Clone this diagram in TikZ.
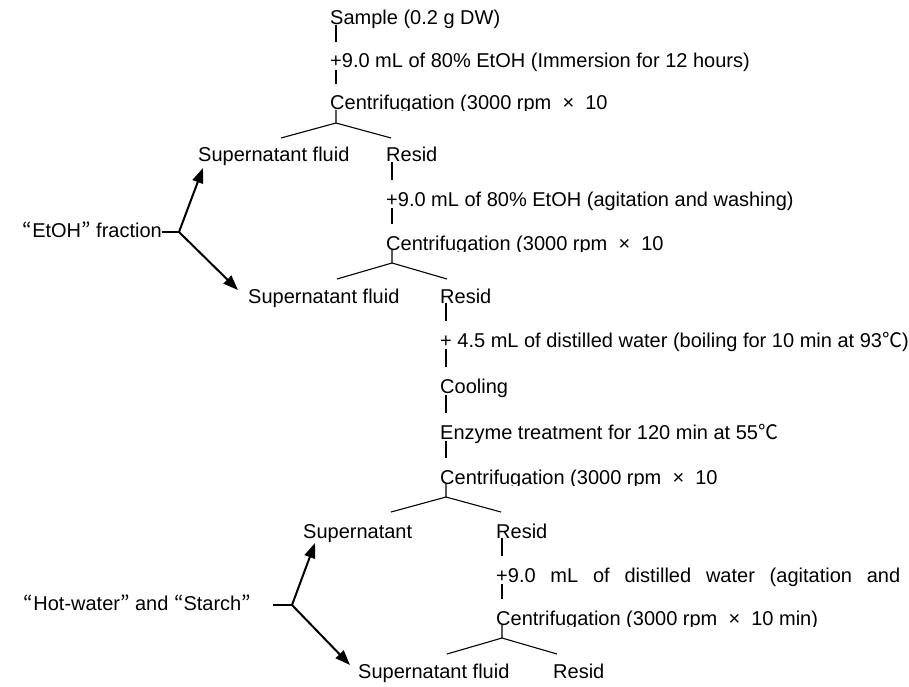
\documentclass[tikz,border=0pt]{standalone}
\usepackage{fontspec}
\setmainfont{Liberation Sans}
\newfontfamily\jfont{Noto Sans CJK JP}
\usetikzlibrary{positioning,arrows.meta}
\newcommand\jqo{{\jfont “}}
\newcommand\jqc{{\jfont ”}}
\newcommand\degC{{\jfont ℃}}

\begin{document}
\begin{tikzpicture}[x=1pt, y=-1pt,
    txt/.style={inner sep=0pt, anchor=base west,
        font=\fontsize{20}{24}\selectfont,
        text height=14.5pt, text depth=4pt},
    flow/.style={line width=1.1pt},
    fat/.style={line width=2pt, -{Triangle[length=15pt,width=11pt]}}]
    \useasboundingbox (0,0) rectangle (909,687);

    \node[txt] (S) at (330,25) {Sample (0.2 g DW)};
    \node[below=43pt of S.base west, txt] (A1) {+9.0 mL of 80\% EtOH (Immersion for 12 hours)};
    \begin{scope}
        \clip (A1.base west) ++(-10,10) rectangle ++(480,33);
        \node[below=42pt of A1.base west, txt] (C1) {Centrifugation (3000 rpm~ ×~ 10};
    \end{scope}
    \node[below left=52pt and 132pt of C1.base west, txt] (P1) {Supernatant fluid};
    \node[below right=52pt and 56pt of C1.base west, txt] (R1) {Resid};

    \node[below=44pt of R1.base west, txt] (A2) {+9.0 mL of 80\% EtOH (agitation and washing)};
    \begin{scope}
        \clip (A2.base west) ++(-10,10) rectangle ++(480,35);
        \node[below=44pt of A2.base west, txt] (C2) {Centrifugation (3000 rpm~ ×~ 10};
    \end{scope}
    \node[below left=53pt and 138pt of C2.base west, txt] (P2) {Supernatant fluid};
    \node[below right=53pt and 54pt of C2.base west, txt] (R2) {Resid};

    \node[below=44pt of R2.base west, txt] (B) {+ 4.5 mL of distilled water (boiling for 10 min at 93\degC)};
    \node[below=46pt of B.base west, txt] (K) {Cooling};
    \node[below=46pt of K.base west, txt] (E) {Enzyme treatment for 120 min at 55\degC};
    \begin{scope}
        \clip (E.base west) ++(-10,10) rectangle ++(480,36);
        \node[below=45pt of E.base west, txt] (C3) {Centrifugation (3000 rpm~ ×~ 10};
    \end{scope}
    \node[below left=54pt and 137pt of C3.base west, txt] (P3) {Supernatant};
    \node[below right=54pt and 56pt of C3.base west, txt] (R3) {Resid};

    \node[below=44pt of R3.base west, txt] (A3) {\makebox[404pt][s]{+9.0 mL of distilled water (agitation and}};
    \begin{scope}
        \clip (A3.base west) ++(-10,10) rectangle ++(480,34);
        \node[below=43pt of A3.base west, txt] (C4) {Centrifugation (3000 rpm~ ×~ 10 min)};
    \end{scope}
    \node[below left=53pt and 138pt of C4.base west, txt] (P4) {Supernatant fluid};
    \node[below right=53pt and 57pt of C4.base west, txt] (R4) {Resid};

    \coordinate (J1) at (179,232);
    \coordinate (J2) at (292,605);
    \node[txt, left=17pt of J1] (F1) {\jqo EtOH\jqc{} fraction};
    \node[txt, left=41pt of J2] (F2) {\jqo Hot-water\jqc{} and \jqo Starch\jqc};

    \draw[flow] ([xshift=6pt]S.base west) -- ([xshift=6pt,yshift=11pt]A1.north west)
        ([xshift=6pt,yshift=-2pt]A1.base west) -- ([xshift=6pt,yshift=11pt]C1.north west)
        ([xshift=6pt]R1.base west) -- ([xshift=6pt,yshift=11pt]A2.north west)
        ([xshift=6pt,yshift=-2pt]A2.base west) -- ([xshift=6pt,yshift=11pt]C2.north west)
        ([xshift=6pt]R2.base west) -- ([xshift=6pt,yshift=11pt]B.north west)
        ([xshift=6pt,yshift=-2pt]B.base west) -- ([xshift=6pt,yshift=11pt]K.north west)
        ([xshift=6pt,yshift=-2pt]K.base west) -- ([xshift=6pt,yshift=11pt]E.north west)
        ([xshift=6pt,yshift=-2pt]E.base west) -- ([xshift=6pt,yshift=11pt]C3.north west)
        ([xshift=6pt]R3.base west) -- ([xshift=6pt,yshift=11pt]A3.north west)
        ([xshift=6pt,yshift=-2pt]A3.base west) -- ([xshift=6pt,yshift=11pt]C4.north west);

    \draw[flow] ([xshift=6pt]C1.base west) -- ++(0,13) coordinate (Y1) -- ++(-55,15) (Y1) -- ++(55,15);
    \draw[flow] ([xshift=6pt]C2.base west) -- ++(0,13) coordinate (Y2) -- ++(-55,16) (Y2) -- ++(55,16);
    \draw[flow] ([xshift=6pt]C3.base west) -- ++(0,13) coordinate (Y3) -- ++(-55,15) (Y3) -- ++(55,15);
    \draw[flow] ([xshift=6pt]C4.base west) -- ++(0,13) coordinate (Y4) -- ++(-55,16) (Y4) -- ++(55,16);

    \draw[flow] (F1) -- (J1);
    \draw[fat] (J1) -- ([xshift=5pt,yshift=-6pt]P1.base west);
    \draw[fat] (J1) -- ([xshift=-10pt,yshift=13pt]P2.base west);
    \draw[flow] ([xshift=22pt]F2.east) -- (J2);
    \draw[fat] (J2) -- ([xshift=12pt,yshift=-5pt]P3.base west);
    \draw[fat] (J2) -- ([xshift=-8pt,yshift=13pt]P4.base west);
\end{tikzpicture}
\end{document}
